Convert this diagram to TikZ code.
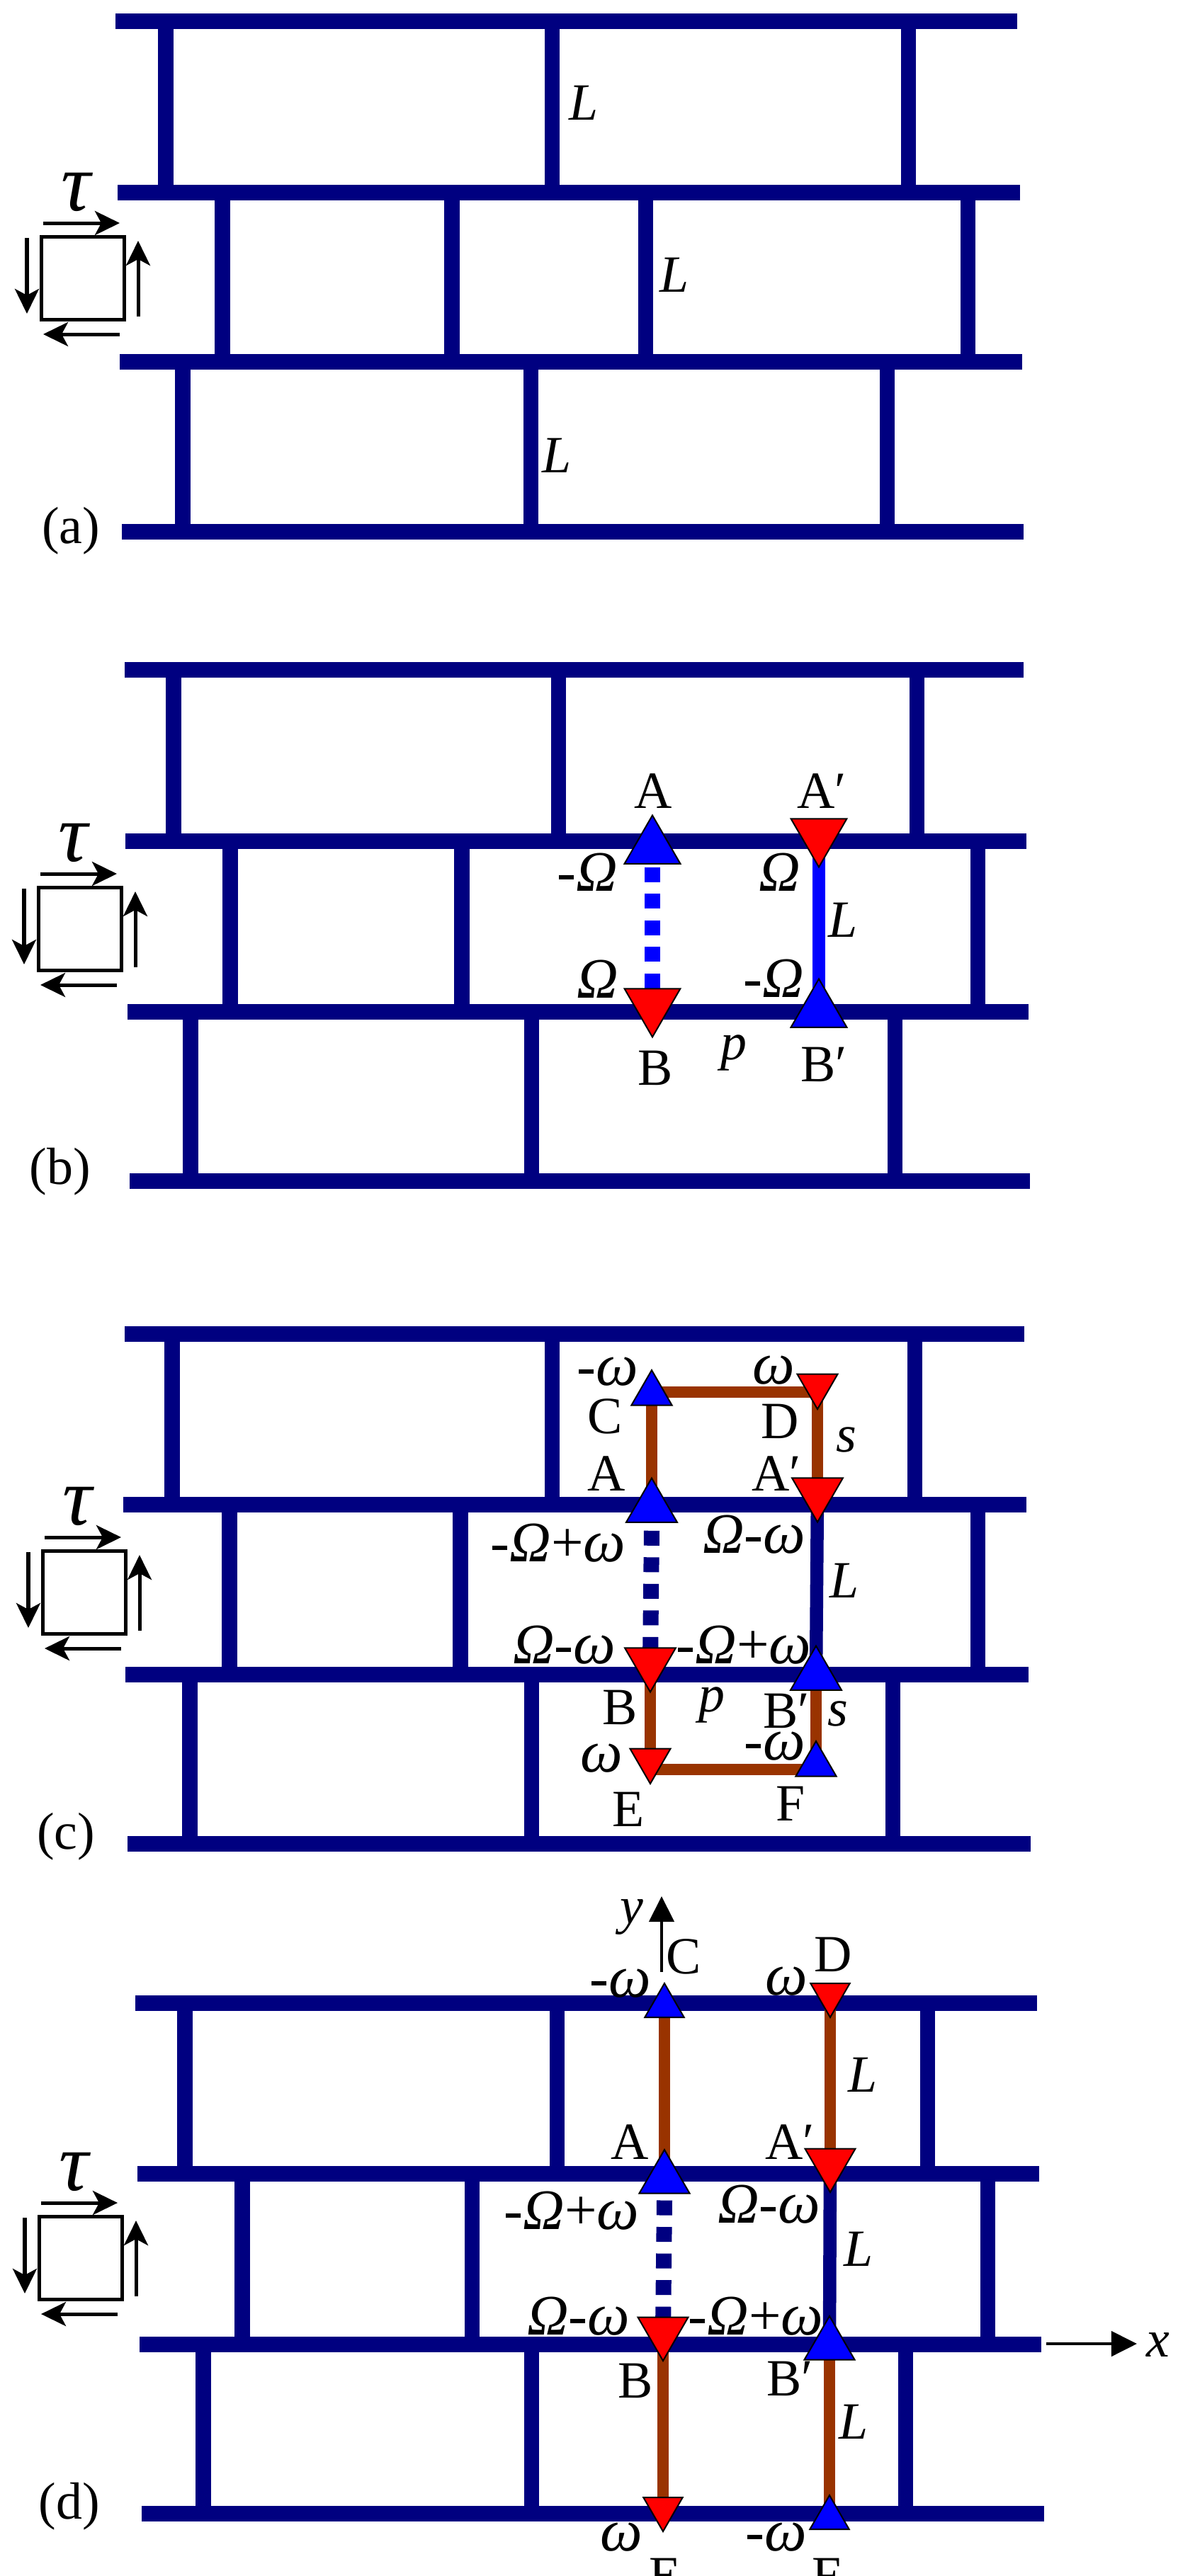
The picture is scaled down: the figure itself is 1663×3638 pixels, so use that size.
\documentclass[tikz,border=0pt]{standalone}
\usepackage{fontspec}
\setmainfont{Liberation Serif}
\usetikzlibrary{arrows.meta,positioning,shapes.geometric,backgrounds}
\newcommand{\bigom}{\textit{Ω}}
\newcommand{\smom}{{\fontsize{24}{24}\selectfont\textit{ω}}}
\definecolor{navywall}{HTML}{000080}
\definecolor{rodbrown}{HTML}{993300}
\tikzset{
beam/.style={draw=navywall,line width=.22cm},
wall/.style={draw=navywall,line width=.21cm},
rod/.style={draw=rodbrown,line width=.16cm},
solidrod/.style={draw=#1,line width=.185cm},
gaprod/.style={draw=#1,line width=.22cm,dash pattern=on .21cm off .165cm},
upmark/.style={regular polygon,regular polygon sides=3,draw=black,line width=.02cm,fill=blue,inner sep=0pt,outer sep=0pt,minimum size=#1},
downmark/.style={regular polygon,regular polygon sides=3,regular polygon rotate=180,draw=black,line width=.02cm,fill=red,inner sep=0pt,outer sep=0pt,minimum size=#1},
lab/.style={inner sep=0pt,font=\fontsize{21}{25}\selectfont},
greek/.style={inner sep=0pt,font=\fontsize{23}{25}\selectfont},
taulab/.style={inner sep=0pt,font=\fontsize{33}{36}\selectfont\itshape},
cell/.style={draw,line width=.05cm,fill=white,inner sep=0pt,minimum size=1.17cm},
shear/.style={-{Stealth[length=.35cm,width=.34cm,inset=.09cm]},line width=.05cm},
axisarrow/.style={-{Triangle[length=.36cm,width=.35cm]},line width=.045cm}
}
\newcommand{\shearcell}[3]{%
\node[cell] (#1) at (#2,#3) {};
\node[taulab,above=.33cm of #1,xshift=-.1cm] (#1tau) {τ};
\draw[shear] ([shift={(-56,-78)}]#1.center)--([shift={(52,-78)}]#1.center);
\draw[shear] ([shift={(78,54)}]#1.center)--([shift={(78,-53)}]#1.center);
\draw[shear] ([shift={(-79,-57)}]#1.center)--([shift={(-79,50)}]#1.center);
\draw[shear] ([shift={(52,79)}]#1.center)--([shift={(-56,79)}]#1.center);
}

\begin{document}
\begin{tikzpicture}[x=.01cm,y=-.01cm]
\useasboundingbox (0,0) rectangle (1663,3638);

% panel a
\begin{scope}[on background layer]
\draw[beam] (163,30)--(1436,30) (166,272)--(1440,272) (169,511)--(1443,511) (172,751)--(1445,751);
\draw[wall] (234,30)--(234,272) (779,30)--(779,272) (1282,30)--(1282,272);
\draw[wall] (314,272)--(314,511) (638,272)--(638,511) (911,272)--(911,511) (1366,272)--(1366,511);
\draw[wall] (258,511)--(258,751) (749,511)--(749,751) (1252,511)--(1252,751);
\end{scope}
\shearcell{cella}{117}{393}
\node[lab] (La1) at (824,145) {\textit{L}};
\node[lab] (La2) at (952,388) {\textit{L}};
\node[lab] (La3) at (786,643) {\textit{L}};
\node[lab] (taga) at (100,750) {(a)};

% panel b
\node[upmark=.91cm] (bA) at (921,1197) {};
\node[downmark=.91cm] (bAp) at (1156,1179) {};
\node[downmark=.91cm] (bB) at (921,1419) {};
\node[upmark=.91cm] (bBp) at (1156,1428) {};
\begin{scope}[on background layer]
\draw[beam] (176,946)--(1445,946) (177,1188)--(1449,1188) (180,1429)--(1452,1429) (183,1668)--(1454,1668);
\draw[wall] (245,946)--(245,1188) (788,946)--(788,1188) (1294,946)--(1294,1188);
\draw[wall] (325,1188)--(325,1429) (652,1188)--(652,1429) (1380,1188)--(1380,1429);
\draw[wall] (269,1429)--(269,1668) (750,1429)--(750,1668) (1263,1429)--(1263,1668);
\draw[gaprod=blue] ([yshift=-.05cm]bA.south)--(bB.center);
\draw[solidrod=blue] (bAp.center)--(bBp.center);
\end{scope}
\shearcell{cellb}{113}{1312}
\node[lab] (labA) at (922,1117) {A};
\node[lab] (labAp) at (1160,1117) {A′};
\node[greek] (om1) at (829,1232) {-\bigom};
\node[greek] (om2) at (1101,1232) {\bigom};
\node[greek] (om3) at (844,1383) {\bigom};
\node[greek] (om4) at (1092,1382) {-\bigom};
\node[lab] (Lb) at (1190,1299) {\textit{L}};
\node[lab] (pb) at (1036,1487) {\textit{p}};
\node[lab] (labB) at (925,1508) {B};
\node[lab] (labBp) at (1163,1503) {B′};
\node[lab] (tagb) at (85,1655) {(b)};

% panel c
\node[upmark=.66cm] (cC) at (920,1968) {};
\node[downmark=.66cm] (cD) at (1154,1957) {};
\node[upmark=.83cm] (cA) at (920,2129) {};
\node[downmark=.83cm] (cAp) at (1154,2108) {};
\node[downmark=.83cm] (cB) at (918,2348) {};
\node[upmark=.83cm] (cBp) at (1152,2366) {};
\node[downmark=.66cm] (cE) at (918,2486) {};
\node[upmark=.66cm] (cF) at (1152,2492) {};
\coordinate (ctop) at (0,1966);
\coordinate (cbot) at (0,2499);
\begin{scope}[on background layer]
\draw[beam] (176,1884)--(1446,1884) (174,2125)--(1449,2125) (177,2365)--(1452,2365) (180,2604)--(1455,2604);
\draw[wall] (243,1884)--(243,2125) (779,1884)--(779,2125) (1291,1884)--(1291,2125);
\draw[wall] (324,2125)--(324,2365) (650,2125)--(650,2365) (1380,2125)--(1380,2365);
\draw[wall] (268,2365)--(268,2604) (750,2365)--(750,2604) (1260,2365)--(1260,2604);
\draw[gaprod=navywall] ([yshift=-.12cm]cA.south)--(cB.center);
\draw[solidrod=navywall] (cAp.center)--(cBp.center);
\draw[rod] (cC.center)--(cA.center);
\draw[rod] (cD.center)--(cAp.center);
\draw[rod] (cC|-ctop)--(cD|-ctop);
\draw[rod] (cB.center)--(cE.center);
\draw[rod] (cBp.center)--(cF.center);
\draw[rod] (cE|-cbot)--(cF|-cbot);
\end{scope}
\shearcell{cellc}{119}{2249}
\node[greek] (cw1) at (858,1937) {-\smom};
\node[greek] (cw2) at (1092,1935) {\smom};
\node[lab] (labcC) at (854,2000) {C};
\node[lab] (labcD) at (1101,2007) {D};
\node[lab] (cs1) at (1195,2033) {\textit{s}};
\node[lab] (labcA) at (856,2081) {A};
\node[lab] (labcAp) at (1096,2081) {A′};
\node[greek] (cw3) at (788,2179) {-\bigom+\smom};
\node[greek] (cw4) at (1065,2167) {\bigom-\smom};
\node[lab] (Lc) at (1192,2232) {\textit{L}};
\node[greek] (cw5) at (797,2323) {\bigom-\smom};
\node[greek] (cw6) at (1050,2323) {-\bigom+\smom};
\node[lab] (labcB) at (875,2411) {B};
\node[lab] (pc) at (1005,2408) {\textit{p}};
\node[lab] (labcBp) at (1110,2416) {B′};
\node[lab] (cs2) at (1183,2420) {\textit{s}};
\node[greek] (cw7) at (1094,2466) {-\smom};
\node[greek] (cw8) at (849,2483) {\smom};
\node[lab] (labcE) at (887,2555) {E};
\node[lab] (labcF) at (1116,2547) {F};
\node[lab] (tagc) at (93,2594) {(c)};

% panel d
\node[upmark=.64cm] (dC) at (938,2833) {};
\node[downmark=.64cm] (dD) at (1172,2817) {};
\node[upmark=.82cm] (dA) at (938,3077) {};
\node[downmark=.82cm] (dAp) at (1172,3055) {};
\node[downmark=.82cm] (dB) at (936,3293) {};
\node[upmark=.82cm] (dBp) at (1171,3312) {};
\node[downmark=.64cm] (dE) at (936,3543) {};
\node[upmark=.64cm] (dF) at (1171,3556) {};
\coordinate (yfoot) at (934,2785);
\coordinate (ytip) at (934,2678);
\coordinate (xfoot) at (1477,3310);
\coordinate (xtip) at (1605,3310);
\begin{scope}[on background layer]
\draw[beam] (191,2829)--(1464,2829) (194,3070)--(1467,3070) (197,3311)--(1470,3311) (200,3550)--(1474,3550);
\draw[wall] (261,2829)--(261,3070) (786,2829)--(786,3070) (1309,2829)--(1309,3070);
\draw[wall] (342,3070)--(342,3311) (666,3070)--(666,3311) (1394,3070)--(1394,3311);
\draw[wall] (287,3311)--(287,3550) (750,3311)--(750,3550) (1278,3311)--(1278,3550);
\draw[gaprod=navywall] ([yshift=-.1cm]dA.south)--(dB.center);
\draw[solidrod=navywall] (dAp.center)--(dBp.center);
\draw[rod] (dC.center)--(dA.center);
\draw[rod] (dD.center)--(dAp.center);
\draw[rod] (dB.center)--(dE.center);
\draw[rod] (dBp.center)--(dF.center);
\end{scope}
\draw[axisarrow] (yfoot)--(ytip);
\draw[axisarrow] (xfoot)--(xtip);
\shearcell{celld}{114}{3189}
\node[lab] (ylab) at (892,2707) {\textit{y}};
\node[lab] (xlab) at (1635,3312) {\textit{x}};
\node[lab] (labdC) at (965,2763) {C};
\node[lab] (labdD) at (1176,2760) {D};
\node[greek] (dw1) at (876,2801) {-\smom};
\node[greek] (dw2) at (1110,2798) {\smom};
\node[lab] (Ld1) at (1218,2930) {\textit{L}};
\node[lab] (labdA) at (889,3025) {A};
\node[lab] (labdAp) at (1115,3025) {A′};
\node[greek] (dw3) at (807,3122) {-\bigom+\smom};
\node[greek] (dw4) at (1086,3113) {\bigom-\smom};
\node[lab] (Ld2) at (1212,3176) {\textit{L}};
\node[greek] (dw5) at (817,3271) {\bigom-\smom};
\node[greek] (dw6) at (1067,3271) {-\bigom+\smom};
\node[lab] (labdB) at (897,3362) {B};
\node[lab] (labdBp) at (1115,3359) {B′};
\node[lab] (Ld3) at (1205,3420) {\textit{L}};
\node[greek] (dw7) at (877,3583) {\smom};
\node[greek] (dw8) at (1096,3583) {-\smom};
\node[lab] (labdE) at (939,3637) {E};
\node[lab] (labdF) at (1167,3637) {F};
\node[lab] (tagd) at (98,3540) {(d)};
\end{tikzpicture}
\end{document}
